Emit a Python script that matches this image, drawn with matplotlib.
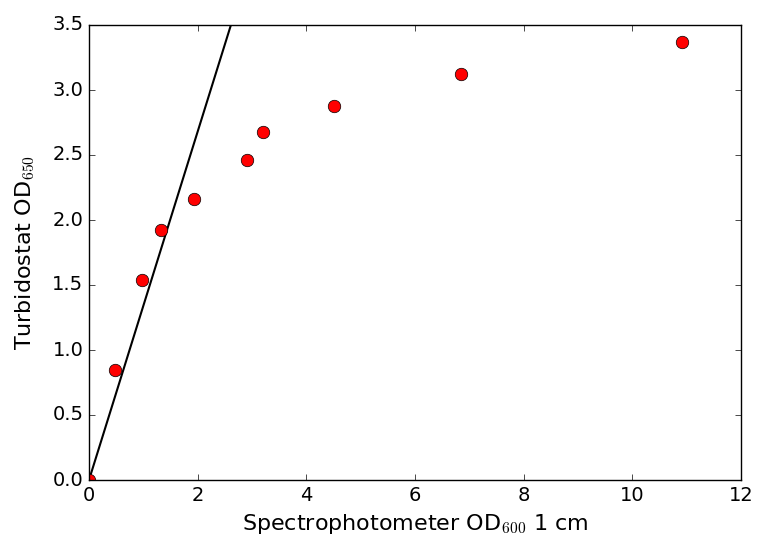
import numpy as np
import matplotlib
matplotlib.use('Agg')
import matplotlib.pyplot as plt

# spectrophotometer OD600 vs turbidostat OD650
spec_od = [0.0, 0.48, 0.98, 1.33, 1.93, 2.91, 3.21, 4.51, 6.85, 10.91]
turb_od = [0.0, 0.85, 1.54, 1.92, 2.16, 2.46, 2.68, 2.88, 3.12, 3.37]
slope = 1.34

plt.style.use('classic')
plt.rcParams['mathtext.fontset'] = 'cm'
plt.rcParams['font.size'] = 14

fig = plt.figure(figsize=(7.58, 5.42), dpi=100, facecolor='white')
ax = fig.add_axes([89/758, 62/542, 652/758, 455/542])

xs = np.array([0, 12])
ax.plot(xs, slope * xs, color='black', lw=1.5)
ax.plot(spec_od, turb_od, 'o', color='red', mec='black', ms=9)

ax.set_xlim(0, 12)
ax.set_ylim(0, 3.5)
ax.set_xlabel('Spectrophotometer OD$_{600}$ 1 cm', fontsize=16)
ax.set_ylabel('Turbidostat OD$_{650}$', fontsize=16, labelpad=11)

fig.savefig('out.png', dpi=100, facecolor='white')
